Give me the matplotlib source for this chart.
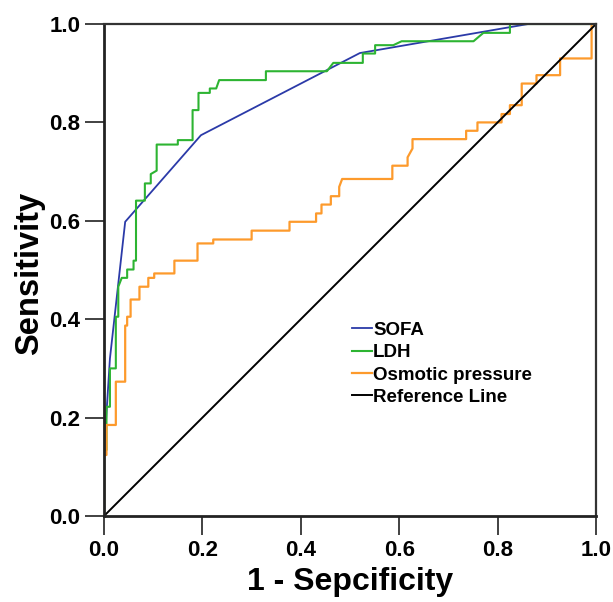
import matplotlib
matplotlib.use("Agg")
import matplotlib.pyplot as plt

# SOFA ROC (piecewise-linear)
sofa_fpr = [0.0, 0.0, 0.012, 0.043, 0.197, 0.52, 0.862, 1.0]
sofa_tpr = [0.0, 0.13, 0.32, 0.598, 0.774, 0.941, 1.0, 1.0]

# LDH ROC (step curve)
ldh_fpr = [0.0, 0.0, 0.005, 0.005, 0.012, 0.012, 0.024, 0.024, 0.029, 0.029, 0.036, 0.047, 0.047,
           0.060, 0.060, 0.065, 0.065, 0.083, 0.083, 0.095, 0.095, 0.107, 0.107, 0.150, 0.150,
           0.180, 0.180, 0.192, 0.192, 0.215, 0.215, 0.228, 0.234, 0.329, 0.329, 0.453, 0.466,
           0.526, 0.526, 0.551, 0.551, 0.588, 0.605, 0.751, 0.771, 0.825, 0.825, 1.0]
ldh_tpr = [0.0, 0.134, 0.134, 0.222, 0.222, 0.30, 0.30, 0.405, 0.405, 0.466, 0.484, 0.484, 0.501,
           0.501, 0.519, 0.519, 0.641, 0.641, 0.676, 0.676, 0.695, 0.702, 0.755, 0.755, 0.764,
           0.764, 0.825, 0.825, 0.860, 0.860, 0.869, 0.869, 0.886, 0.886, 0.904, 0.904, 0.921,
           0.921, 0.940, 0.940, 0.957, 0.957, 0.965, 0.965, 0.982, 0.982, 1.0, 1.0]

# Osmotic pressure ROC (step curve)
osm_fpr = [0.0, 0.0, 0.005, 0.005, 0.024, 0.024, 0.043, 0.043, 0.047, 0.047, 0.054, 0.054,
           0.072, 0.072, 0.090, 0.090, 0.102, 0.102, 0.143, 0.143, 0.190, 0.190, 0.222, 0.222,
           0.300, 0.300, 0.377, 0.377, 0.431, 0.431, 0.442, 0.442, 0.461, 0.461, 0.478, 0.478,
           0.484, 0.586, 0.586, 0.617, 0.617, 0.627, 0.627, 0.736, 0.736, 0.759, 0.759, 0.808,
           0.808, 0.825, 0.825, 0.849, 0.849, 0.879, 0.879, 0.927, 0.927, 0.991, 0.991, 1.0]
osm_tpr = [0.0, 0.124, 0.124, 0.185, 0.185, 0.273, 0.273, 0.387, 0.387, 0.405, 0.405, 0.440,
           0.440, 0.466, 0.466, 0.484, 0.484, 0.493, 0.493, 0.519, 0.519, 0.554, 0.554, 0.562,
           0.562, 0.580, 0.580, 0.598, 0.598, 0.615, 0.615, 0.633, 0.633, 0.650, 0.650, 0.669,
           0.685, 0.685, 0.712, 0.712, 0.729, 0.747, 0.766, 0.766, 0.783, 0.783, 0.800, 0.800,
           0.817, 0.817, 0.835, 0.835, 0.879, 0.879, 0.896, 0.896, 0.930, 0.930, 1.0, 1.0]

ref_x = [0.0, 1.0]
ref_y = [0.0, 1.0]

series_labels = ["SOFA", "LDH", "Osmotic pressure", "Reference Line"]
ticks = [0.0, 0.2, 0.4, 0.6, 0.8, 1.0]
tick_labels = ["0.0", "0.2", "0.4", "0.6", "0.8", "1.0"]

plt.rcParams['font.family'] = ['Liberation Sans', 'DejaVu Sans']

fig = plt.figure(figsize=(6.13, 6.02), dpi=100)
ax = fig.add_axes([0.1697, 0.1429, 0.8026, 0.8172])

ax.plot(sofa_fpr, sofa_tpr, color='#2b3aa8', lw=1.3, label=series_labels[0])
ax.plot(ldh_fpr, ldh_tpr, color='#2db432', lw=1.5, label=series_labels[1])
ax.plot(osm_fpr, osm_tpr, color='#fd9a2c', lw=1.6, label=series_labels[2])
ax.plot(ref_x, ref_y, color='black', lw=1.4, label=series_labels[3])

ax.set_xlim(0, 1)
ax.set_ylim(0, 1)
ax.set_xticks(ticks)
ax.set_xticklabels(tick_labels)
ax.set_yticks(ticks)
ax.set_yticklabels(tick_labels)
ax.tick_params(axis='both', direction='out', length=14, width=1.3, labelsize=16, pad=3,
               color='#333333')
for lab in ax.get_xticklabels() + ax.get_yticklabels():
    lab.set_fontweight('bold')

for s in ['left', 'bottom']:
    ax.spines[s].set_linewidth(2.0)
    ax.spines[s].set_color('#222222')
for s in ['top', 'right']:
    ax.spines[s].set_linewidth(1.6)
    ax.spines[s].set_color('#333333')

ax.set_xlabel("1 - Sepcificity", fontsize=23, fontweight='bold')
ax.set_ylabel("Sensitivity", fontsize=23.5, fontweight='bold')
ax.xaxis.set_label_coords(0.5, -0.104)
ax.yaxis.set_label_coords(-0.12, 0.493)

leg = ax.legend(loc='upper left', bbox_to_anchor=(0.488, 0.41), frameon=False,
                handlelength=1.1, handletextpad=0.05, labelspacing=0.28,
                prop={'size': 13.5, 'weight': 'bold'}, borderaxespad=0)

fig.savefig("out.png", dpi=100)
